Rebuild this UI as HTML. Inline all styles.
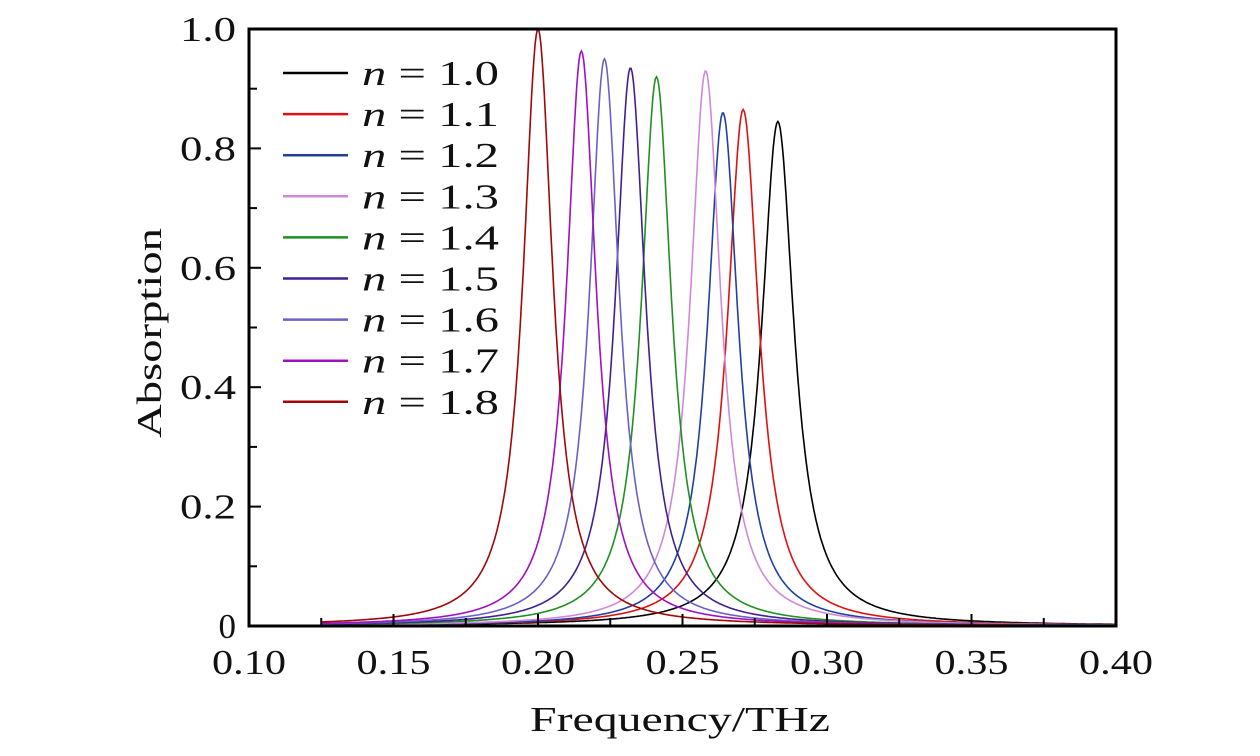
<!DOCTYPE html>
<html><head><meta charset="utf-8"><style>
body{margin:0;background:#fff;}
svg text{font-family:"Liberation Serif",serif;fill:#111;}
</style></head><body>
<svg width="1260" height="751" xmlns="http://www.w3.org/2000/svg">
<g id="plot"></g>
</svg>
<script>
const nValues=["1.0","1.1","1.2","1.3","1.4","1.5","1.6","1.7","1.8"];
const peakFreq=[0.283,0.271,0.264,0.258,0.241,0.232,0.223,0.215,0.200];
const peakHeight=[0.845,0.865,0.86,0.93,0.92,0.935,0.95,0.963,1.0];
const peakWidth=[0.0068,0.0066,0.0064,0.0064,0.0063,0.0063,0.0062,0.0062,0.0062];
const xTicks=[0.10,0.15,0.20,0.25,0.30,0.35,0.40];
const xTickLabels=["0.10","0.15","0.20","0.25","0.30","0.35","0.40"];
const yTicks=[0,0.2,0.4,0.6,0.8,1.0];
const yTickLabels=["0","0.2","0.4","0.6","0.8","1.0"];
const colors=["#000000","#e01010","#2040a0","#d088d8","#209020","#402090","#6a60c8","#a010c0","#a00808"];
const NS="http://www.w3.org/2000/svg";
const L=249,R=1116,T=29,B=626;
const xs=v=>L+(v-0.10)/0.30*(R-L);
const ys=v=>B-v*(B-T);
const g=document.getElementById('plot');
function mk(t,a,p){const e=document.createElementNS(NS,t);for(const k in a)e.setAttribute(k,a[k]);(p||g).appendChild(e);return e;}
for(let i=0;i<peakFreq.length;i++){
  let d="";
  for(let f=0.125;f<=0.4;f+=0.0004){
    const u=(f-peakFreq[i])/peakWidth[i];
    const v=peakHeight[i]/(1+u*u);
    d+=(d?"L":"M")+xs(f).toFixed(1)+","+ys(v).toFixed(1);
  }
  const p=mk('path',{d:d,fill:'none',stroke:colors[i],'stroke-width':1.6});
  
  
}
const fr=mk('rect',{x:L,y:T,width:R-L,height:B-T,fill:'none',stroke:'#000','stroke-width':3});


const SG='spacingAndGlyphs';
for(let i=0;i<xTicks.length;i++){
  const x=xs(xTicks[i]);
  mk('line',{x1:x,x2:x,y1:B,y2:B-12,stroke:'#000','stroke-width':2});
  const t=mk('text',{x:x,y:674,'font-size':35,'text-anchor':'middle',textLength:74,lengthAdjust:SG});
  t.textContent=xTickLabels[i];
  
  
  if(i<xTicks.length-1){const xm=xs(xTicks[i]+0.025);mk('line',{x1:xm,x2:xm,y1:B,y2:B-8,stroke:'#000','stroke-width':2});}
}
for(let i=0;i<yTicks.length;i++){
  const y=ys(yTicks[i]);
  mk('line',{x1:L,x2:L+12,y1:y,y2:y,stroke:'#000','stroke-width':2});
  const a={x:236,y:y+12,'font-size':35,'text-anchor':'end'};
  if(yTickLabels[i].length>1){a.textLength=56;a.lengthAdjust=SG;}
  const t=mk('text',a);
  t.textContent=yTickLabels[i];
  
  
  if(i<yTicks.length-1){const ym=ys(yTicks[i]+0.1);mk('line',{x1:L,x2:L+8,y1:ym,y2:ym,stroke:'#000','stroke-width':2});}
}
const xt=mk('text',{x:530,y:731,'font-size':35,textLength:300,lengthAdjust:SG});
xt.textContent="Frequency/THz";


const yt=mk('text',{x:0,y:0,'font-size':35,textLength:210,lengthAdjust:SG,transform:'translate(161,438) rotate(-90)'});
yt.textContent="Absorption";


for(let i=0;i<nValues.length;i++){
  const y=73+i*41.1;
  const ln=mk('line',{x1:283,x2:348,y1:y,y2:y,stroke:colors[i],'stroke-width':2.5});
  
  
  const t=mk('text',{x:362,y:y+12,'font-size':35,textLength:137,lengthAdjust:SG});
  
  
  const a=document.createElementNS(NS,'tspan');a.setAttribute('font-style','italic');a.textContent='n';t.appendChild(a);
  const b=document.createElementNS(NS,'tspan');b.textContent=' = '+nValues[i];t.appendChild(b);
}
</script>
</body></html>
